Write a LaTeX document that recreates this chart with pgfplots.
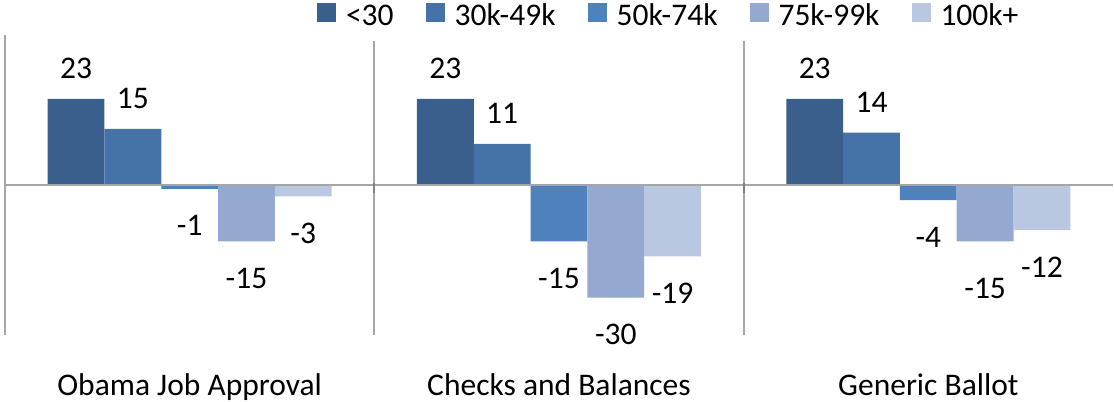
\documentclass[border=0pt]{standalone}
\usepackage{pgfplots}
\pgfplotsset{compat=1.18}
\usepackage{pgfplotstable}
\usepackage{fontspec}
\setmainfont{Carlito}

\definecolor{cA}{HTML}{3B5F8D}
\definecolor{cB}{HTML}{4573A8}
\definecolor{cC}{HTML}{4F81BD}
\definecolor{cD}{HTML}{95A9D0}
\definecolor{cE}{HTML}{B9C7E0}
\definecolor{ln}{HTML}{A6A6A6}

% x = group, y = value, lab = label text, off = label shift (bp)
\pgfplotstableread{
x y lab off
0 23 23 15
1 23 23 15
2 23 23 15
}\tA
\pgfplotstableread{
x y lab off
0 15 15 15
1 11 11 15
2 14 14 15
}\tB
\pgfplotstableread{
x y lab off
0 -1 -1 -18.5
1 -15 -15 -18.5
2 -4 -4 -18.5
}\tC
\pgfplotstableread{
x y lab off
0 -15 -15 -18.5
1 -30 -30 -18.5
2 -15 -15 -23.5
}\tD
\pgfplotstableread{
x y lab off
0 -3 -3 -18.5
1 -19 -19 -18.5
2 -12 -12 -18.5
}\tE

\begin{document}
\begin{tikzpicture}[font=\fontsize{15.75bp}{19bp}\selectfont]
\begin{axis}[
  name=ax,
  scale only axis,
  width=554bp, height=150bp,
  xmin=-0.5, xmax=2.5,
  ymin=-40, ymax=40,
  ybar=0pt,
  bar width=0.1538,
  axis line style={draw=none},
  ytick=\empty,
  xtick={0,1,2},
  xticklabels={Obama Job Approval, Checks and Balances, Generic Ballot},
  major tick length=0pt,
  xticklabel style={anchor=base, yshift=-30bp, font=\fontsize{15.75bp}{19bp}\selectfont},
  point meta=explicit symbolic,
  nodes near coords,
  visualization depends on={\thisrow{off} \as \off},
  every node near coord/.append style={anchor=center, yshift=\off bp, font=\fontsize{15.75bp}{19bp}\selectfont},
  legend columns=5,
  legend image code/.code={\fill[#1] (0bp,1.5bp) rectangle (9.5bp,11bp);},
  legend style={draw=none, fill=none, inner sep=0pt, outer sep=0pt,
    font=\fontsize{15.75bp}{19bp}\selectfont,
    at={(0,1)}, anchor=south west, xshift=156bp, yshift=3.5bp,
    nodes={inner sep=0pt, anchor=base west},
    /tikz/every odd column/.append style={column sep=5bp},
    /tikz/every even column/.append style={column sep=16bp}},
  clip=false,
]
\addplot[fill=cA, draw=none] table[x=x, y=y, meta=lab] {\tA};
\addplot[fill=cB, draw=none] table[x=x, y=y, meta=lab] {\tB};
\addplot[fill=cC, draw=none] table[x=x, y=y, meta=lab] {\tC};
\addplot[fill=cD, draw=none] table[x=x, y=y, meta=lab] {\tD};
\addplot[fill=cE, draw=none] table[x=x, y=y, meta=lab] {\tE};
\legend{<30, 30k-49k, 50k-74k, 75k-99k, 100k+}
\draw[ln, line width=1bp] (rel axis cs:0,0) -- (rel axis cs:0,1);
\draw[ln, line width=1bp] (axis cs:-0.5,0) -- (axis cs:2.5,0);
\draw[ln, line width=1bp] (axis cs:0.5,38.5) -- (axis cs:0.5,-40);
\draw[ln, line width=1bp] (axis cs:1.5,38.5) -- (axis cs:1.5,-40);
\draw[gray, line width=1bp] (axis cs:0.5,0.5) -- (axis cs:0.5,-2);
\draw[gray, line width=1bp] (axis cs:1.5,0.5) -- (axis cs:1.5,-2);
\end{axis}
\pgfresetboundingbox
\path[use as bounding box] ([xshift=-2.5bp, yshift=-33.5bp]ax.south west) rectangle ([xshift=0.5bp, yshift=17.5bp]ax.north east);
\end{tikzpicture}
\end{document}
